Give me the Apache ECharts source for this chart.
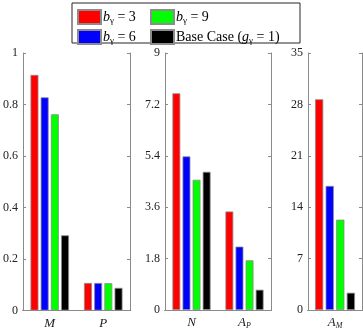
<!DOCTYPE html>
<html>
<head>
<meta charset="utf-8">
<script src="https://cdn.jsdelivr.net/npm/echarts@6/dist/echarts.min.js"></script>
<style>
  html, body { margin: 0; padding: 0; background: #fff; }
  #chart { width: 363px; height: 330px; }
</style>
</head>
<body>
<div id="chart"></div>
<script>
// categories per panel
const catsLeft = ['M', 'P'];
const catsMid = ['N', 'A_P'];
const catsRight = ['A_M'];

// series names and colours
const seriesNames = ['b3', 'b6', 'b9', 'base'];
const seriesColors = ['#ff0000', '#0000ff', '#00ff00', '#000000'];

// values
const leftVals = {
  b3: [0.915, 0.107],
  b6: [0.828, 0.107],
  b9: [0.762, 0.106],
  base: [0.292, 0.088]
};
const midVals = {
  b3: [7.59, 3.45],
  b6: [5.38, 2.22],
  b9: [4.56, 1.74],
  base: [4.84, 0.71]
};
const rightVals = {
  b3: [28.7],
  b6: [16.9],
  b9: [12.3],
  base: [2.35]
};

// y axis ranges
const yMax = [1, 9, 35];
const yStep = [0.2, 1.8, 7];

const FONT = 'Liberation Serif';
const AXIS_GRAY = '#8a8a8a';

const legendText = {
  b3: '{i|b}{s|γ}{n| = 3}',
  b6: '{i|b}{s|γ}{n| = 6}',
  b9: '{i|b}{s|γ}{n| = 9}',
  base: '{n|Base Case (}{i|g}{s|γ}{n| = 1)}'
};
const richText = {
  i: { fontFamily: FONT, fontStyle: 'italic', fontSize: 14, lineHeight: 16, color: '#000' },
  n: { fontFamily: FONT, fontSize: 14, lineHeight: 16, color: '#000' },
  s: { fontFamily: FONT, fontSize: 9, lineHeight: 9, verticalAlign: 'bottom', color: '#000' }
};

const catLabel = {
  M: '{i|M}', P: '{i|P}', N: '{i|N}',
  A_P: '{i|A}{s|P}', A_M: '{i|A}{s|M}'
};
const catRich = {
  i: { fontFamily: FONT, fontStyle: 'italic', fontSize: 13, lineHeight: 14, color: '#222' },
  s: { fontFamily: FONT, fontStyle: 'italic', fontSize: 8, lineHeight: 8, verticalAlign: 'bottom', color: '#222' }
};

const grids = [
  { left: 21, top: 53, width: 109, height: 258 },
  { left: 165, top: 53, width: 106, height: 258 },
  { left: 308, top: 53, width: 54, height: 258 }
];
const panelCats = [catsLeft, catsMid, catsRight];
const panelVals = [leftVals, midVals, rightVals];

const xAxes = [];
const yAxes = [];
const series = [];

panelCats.forEach((cats, g) => {
  xAxes.push({
    type: 'category', gridIndex: g, data: cats, position: 'bottom',
    axisLine: { lineStyle: { color: '#262626', width: 1 } },
    axisTick: { inside: true, alignWithLabel: true, length: 3, lineStyle: { color: '#262626' } },
    axisLabel: { interval: 0, hideOverlap: false, margin: 6, formatter: v => catLabel[v], rich: catRich }
  });
  xAxes.push({
    type: 'category', gridIndex: g, data: cats, position: 'top',
    axisLine: { lineStyle: { color: AXIS_GRAY, width: 1 } },
    axisTick: { inside: true, alignWithLabel: true, length: 3, lineStyle: { color: AXIS_GRAY } },
    axisLabel: { show: false }
  });
  yAxes.push({
    type: 'value', gridIndex: g, min: 0, max: yMax[g], interval: yStep[g], position: 'left',
    axisLine: { show: true, lineStyle: { color: AXIS_GRAY, width: 1 } },
    axisTick: { show: true, inside: true, length: 3, lineStyle: { color: AXIS_GRAY } },
    axisLabel: { margin: 5, fontFamily: FONT, fontSize: 12, color: '#222' },
    splitLine: { show: false }
  });
  yAxes.push({
    type: 'value', gridIndex: g, min: 0, max: yMax[g], interval: yStep[g], position: 'right',
    axisLine: { show: true, lineStyle: { color: AXIS_GRAY, width: 1 } },
    axisTick: { show: true, inside: true, length: 3, lineStyle: { color: AXIS_GRAY } },
    axisLabel: { show: false },
    splitLine: { show: false }
  });
  seriesNames.forEach((name, k) => {
    series.push({
      name: name, type: 'bar',
      xAxisIndex: g * 2, yAxisIndex: g * 2,
      data: panelVals[g][name],
      barGap: '28%',
      barCategoryGap: g === 2 ? '26%' : '28%',
      itemStyle: { color: seriesColors[k], borderColor: '#8c8c8c', borderWidth: 0.8 },
      emphasis: { disabled: true }
    });
  });
});

const legendCommon = {
  orient: 'vertical', top: 4, itemWidth: 23, itemHeight: 14, itemGap: 4,
  icon: 'rect', selectedMode: false,
  formatter: name => legendText[name],
  textStyle: { padding: [0, 0, 0, -3], rich: richText }
};

const chart = echarts.init(document.getElementById('chart'));
chart.setOption({
  animation: false,
  grid: grids,
  xAxis: xAxes,
  yAxis: yAxes,
  legend: [
    Object.assign({ left: 72, data: ['b3', 'b6'] }, legendCommon),
    Object.assign({ left: 145, data: ['b9', 'base'] }, legendCommon)
  ],
  graphic: [{
    type: 'rect', left: 69.5, top: 0.5,
    shape: { width: 228, height: 40 },
    style: { fill: 'none', stroke: '#262626', lineWidth: 1 }
  }],
  series: series
});
</script>
</body>
</html>
